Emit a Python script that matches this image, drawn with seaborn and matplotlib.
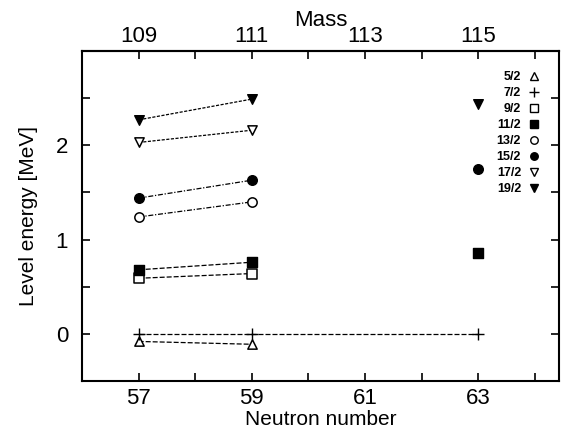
import numpy as np
import pandas as pd
import matplotlib
matplotlib.use("Agg")
import matplotlib.pyplot as plt
import seaborn as sns
from matplotlib import font_manager
from matplotlib.ticker import MultipleLocator, FixedLocator
from matplotlib.lines import Line2D

neutrons = [57, 59, 63]
spins = ["5/2", "7/2", "9/2", "11/2", "13/2", "15/2", "17/2", "19/2"]
e_5_2 = [-0.08, -0.11, np.nan]
e_7_2 = [0.0, 0.0, 0.0]
e_9_2 = [0.59, 0.64, np.nan]
e_11_2 = [0.68, 0.76, 0.86]
e_13_2 = [1.24, 1.40, np.nan]
e_15_2 = [1.44, 1.63, 1.75]
e_17_2 = [2.03, 2.16, np.nan]
e_19_2 = [2.27, 2.49, 2.44]
energies = [e_5_2, e_7_2, e_9_2, e_11_2, e_13_2, e_15_2, e_17_2, e_19_2]
# number of leading points joined by a line for each spin
joined = [2, 3, 2, 2, 2, 2, 2, 2]

markers = ["^", "+", "s", "s", "o", "o", "v", "v"]
filled = [False, None, False, True, False, True, False, True]
styles = [(0, (4, 1.6)), (0, (4, 1.6)), (0, (4, 1.6)), (0, (4, 1.6)),
          (0, (4, 1.4, 1, 1.4)), (0, (4, 1.4, 1, 1.4)), (0, (2.5, 1.2)), (0, (2.5, 1.2))]

sns.set_theme(style="ticks")
names = {f.name for f in font_manager.fontManager.ttflist}
main_font = "Liberation Sans Narrow" if "Liberation Sans Narrow" in names else "Liberation Sans"
plt.rcParams["font.family"] = [main_font, "DejaVu Sans"]
plt.rcParams["text.color"] = "black"
plt.rcParams["axes.labelcolor"] = "black"
plt.rcParams["xtick.color"] = "black"
plt.rcParams["ytick.color"] = "black"

fig = plt.figure(figsize=(5.66, 4.34), dpi=100)
ax = fig.add_axes([0.145, 0.122, 0.843, 0.7605])

handles = []
for i, sp in enumerate(spins):
    df = pd.DataFrame({"N": neutrons, "E": energies[i]})
    dline = df.iloc[:joined[i]].dropna()
    sns.lineplot(data=dline, x="N", y="E", ax=ax, color="black", lw=0.9,
                 linestyle=styles[i], sort=False, estimator=None)
    dpts = df.dropna()
    if markers[i] == "+":
        mk = dict(marker="+", s=75, color="black", linewidths=1.0)
        h = Line2D([], [], marker="+", color="black", ls="none", ms=6.5, mew=1.0)
    elif filled[i]:
        mk = dict(marker=markers[i], s=48, color="black", edgecolor="black", linewidth=1.0)
        h = Line2D([], [], marker=markers[i], color="black", ls="none", ms=5.4, mec="black")
    else:
        mk = dict(marker=markers[i], s=45, facecolor="white", edgecolor="black", linewidth=1.1)
        h = Line2D([], [], marker=markers[i], mfc="white", mec="black", ls="none", ms=5.4, mew=1.0)
    sns.scatterplot(data=dpts, x="N", y="E", ax=ax, zorder=3, **mk)
    handles.append(h)

ax.set_xlim(56, 64.43)
ax.set_ylim(-0.5, 3.0)
ax.xaxis.set_major_locator(FixedLocator([57, 59, 61, 63]))
ax.xaxis.set_minor_locator(MultipleLocator(1))
ax.yaxis.set_major_locator(FixedLocator([0, 1, 2]))
ax.yaxis.set_minor_locator(MultipleLocator(0.5))
ax.tick_params(which="both", direction="in", right=True, top=False, width=1.2, colors="black",
               labelsize=16)
ax.tick_params(which="both", length=6)
ax.tick_params(axis="x", pad=5)
ax.tick_params(axis="y", pad=10)
for s in ax.spines.values():
    s.set_linewidth(1.5)
    s.set_color("black")

ax.set_xlabel("Neutron number", fontsize=15, labelpad=1)
ax.set_ylabel("Level energy [MeV]", fontsize=15, labelpad=13)

sec = ax.secondary_xaxis("top", functions=(lambda n: n + 52, lambda m: m - 52))
sec.xaxis.set_major_locator(FixedLocator([109, 111, 113, 115]))
sec.xaxis.set_minor_locator(MultipleLocator(1))
sec.tick_params(which="both", direction="in", length=6, width=1.2, labelsize=16, pad=3,
                colors="black")
sec.set_xlabel("Mass", fontsize=16, labelpad=0)
sec.spines["top"].set_linewidth(1.5)

leg = ax.legend(handles, spins, loc="upper right", frameon=False, markerfirst=False,
                handlelength=0.8, handletextpad=0.6, labelspacing=0.32,
                prop={"family": ["Liberation Sans", "DejaVu Sans"], "size": 9, "weight": "bold"},
                bbox_to_anchor=(0.975, 0.965), borderaxespad=0.3)
for t in leg.get_texts():
    t.set_ha("right")

fig.savefig("out.png", dpi=100)
